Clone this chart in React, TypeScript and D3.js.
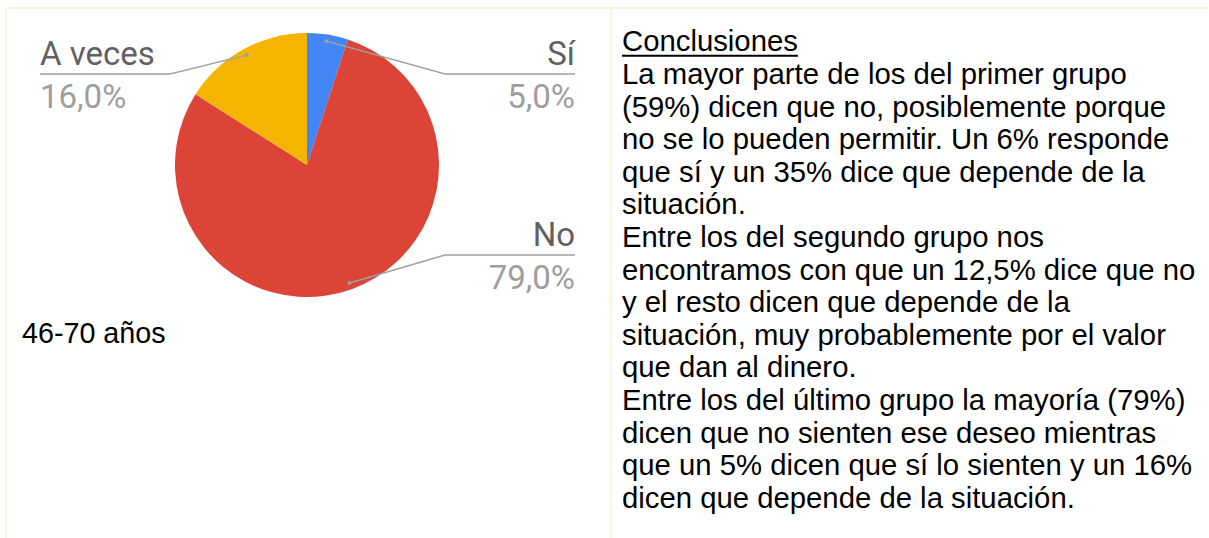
import React, { useEffect, useRef } from 'react';
import * as d3 from 'd3';

// answers for the 46-70 group
const categories = ['Sí', 'No', 'A veces'];
const values = [5.0, 79.0, 16.0];
const sliceColors = ['#4285f4', '#db4437', '#f4b400'];
const groupLabel = '46-70 años';
const conclusionTitle = 'Conclusiones';
const conclusionLines = [
  'La mayor parte de los del primer grupo',
  '(59%) dicen que no, posiblemente porque',
  'no se lo pueden permitir. Un 6% responde',
  'que sí y un 35% dice que depende de la',
  'situación.',
  'Entre los del segundo grupo nos',
  'encontramos con que un 12,5% dice que no',
  'y el resto dicen que depende de la',
  'situación, muy probablemente por el valor',
  'que dan al dinero.',
  'Entre los del último grupo la mayoría (79%)',
  'dicen que no sienten ese deseo mientras',
  'que un 5% dicen que sí lo sienten y un 16%',
  'dicen que depende de la situación.',
];

const W = 1209, H = 538;

const App = () => {
  const ref = useRef<SVGSVGElement>(null);

  useEffect(() => {
    const svg = d3.select(ref.current);
    svg.selectAll('*').remove();

    // table borders
    const border = '#f4f7df';
    svg.append('line').attr('x1', 5).attr('x2', 1208).attr('y1', 8).attr('y2', 8)
      .attr('stroke', border).attr('stroke-width', 2);
    svg.append('line').attr('x1', 6).attr('x2', 6).attr('y1', 8).attr('y2', H)
      .attr('stroke', border).attr('stroke-width', 2);
    svg.append('line').attr('x1', 611).attr('x2', 611).attr('y1', 8).attr('y2', H)
      .attr('stroke', border).attr('stroke-width', 2);

    // pie
    const cx = 307, cy = 165, r = 132;
    const data = categories.map((c, i) => ({ name: c, value: values[i], color: sliceColors[i] }));
    const pie = d3.pie<any>().sort(null).value((d) => d.value);
    const arc = d3.arc<any>().innerRadius(0).outerRadius(r);
    const arcs = pie(data);
    const total = d3.sum(values);
    const loc = d3.formatLocale({ decimal: ',', thousands: '.', grouping: [3], currency: ['', '€'] });
    const pct = loc.format('.1%');

    const g = svg.append('g').attr('transform', `translate(${cx},${cy})`);
    g.selectAll('path.slice')
      .data(arcs)
      .enter().append('path')
      .attr('class', 'slice')
      .attr('d', arc)
      .attr('fill', (d) => d.data.color);

    // labels with leader lines
    const labelFont = 'Roboto, sans-serif';
    arcs.forEach((a) => {
      const mid = (a.startAngle + a.endAngle) / 2;
      const rr = r * 0.95;
      const px = cx + Math.sin(mid) * rr;
      const py = cy - Math.cos(mid) * rr;
      const right = Math.sin(mid) > 0;
      const uy = Math.max(cy - 91, Math.min(cy + 90, py));
      const outer = right ? 575 : 40;
      const inner = right ? 445 : 170;

      svg.append('path')
        .attr('d', d3.line()([[outer, uy], [inner, uy], [px, py]]))
        .attr('fill', 'none')
        .attr('stroke', '#a0a0a0')
        .attr('stroke-width', 1.4);
      svg.append('circle').attr('cx', px).attr('cy', py).attr('r', 2).attr('fill', '#9e9e9e');

      svg.append('text')
        .attr('x', outer).attr('y', uy - 9.5)
        .attr('text-anchor', right ? 'end' : 'start')
        .attr('font-family', labelFont).attr('font-size', 33)
        .attr('fill', '#616161')
        .text(a.data.name);
      svg.append('text')
        .attr('x', outer).attr('y', uy + 33.5)
        .attr('text-anchor', right ? 'end' : 'start')
        .attr('font-family', labelFont).attr('font-size', 33)
        .attr('fill', '#9e9e9e')
        .text(pct(a.data.value / total));
    });

    svg.append('text')
      .attr('x', 22).attr('y', 343)
      .attr('font-family', '"Liberation Sans", Arial, sans-serif').attr('font-size', 28.7)
      .attr('fill', '#000')
      .text(groupLabel);

    // conclusions column
    const tx = 622, base = 51.3, lh = 32.6;
    const tFont = '"Liberation Sans", Arial, sans-serif';
    const title = svg.append('text')
      .attr('x', tx).attr('y', base)
      .attr('font-family', tFont).attr('font-size', 29.3)
      .attr('fill', '#000')
      .text(conclusionTitle);
    const tw = (title.node() as SVGTextElement).getComputedTextLength();
    svg.append('line').attr('x1', tx).attr('x2', tx + tw).attr('y1', base + 4.5).attr('y2', base + 4.5)
      .attr('stroke', '#000').attr('stroke-width', 2);

    svg.selectAll('text.line')
      .data(conclusionLines)
      .enter().append('text')
      .attr('class', 'line')
      .attr('x', tx)
      .attr('y', (d, i) => base + lh * (i + 1))
      .attr('font-family', tFont).attr('font-size', 29.3)
      .attr('fill', '#000')
      .text((d) => d);
  }, []);

  return (
    <svg ref={ref} width={W} height={H}
      style={{ position: 'absolute', left: 0, top: 0, background: '#fff' }} />
  );
};

export default App;
